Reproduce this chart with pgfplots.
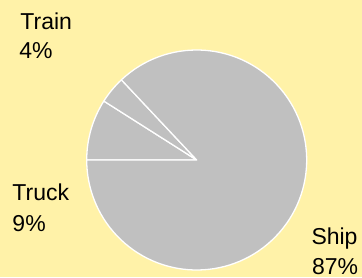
\documentclass[border=0pt]{standalone}
\usepackage{fontspec}
\setmainfont{Liberation Sans}
\usepackage{pgfplots}
\usepackage{pgfplotstable}
\pgfplotsset{compat=1.18}
\definecolor{bgyellow}{RGB}{255,242,168}
\definecolor{piegray}{RGB}{192,192,192}
\pgfplotstableread{
label value
Truck 9
Train 4
Ship 87
}\piedata
\begin{document}
\begin{tikzpicture}
\begin{axis}[
  name=ax,
  x=1pt, y=1pt,
  xmin=0, xmax=362, ymin=0, ymax=277,
  hide axis, clip=false,
]
\pgfplotsextra{
  \fill[bgyellow] (axis cs:0,0) rectangle (axis cs:362,277);
  \gdef\curang{180}
  \pgfplotstableforeachcolumnelement{value}\of\piedata\as\v{
    \pgfmathsetmacro\endang{\curang - 3.6*\v}
    \fill[piegray, draw=white, line width=1.3pt, line join=round]
      (axis cs:196.7,117) -- ++(\curang:110pt)
      arc[start angle=\curang, end angle=\endang, radius=110pt] -- cycle;
    \global\let\curang\endang
  }
  \begingroup
  \fontsize{23}{29}\selectfont
  \node[anchor=base west, inner sep=0pt] at (axis cs:20.2,247.7) {Train};
  \node[anchor=base west, inner sep=0pt] at (axis cs:19.2,218.7) {4\%};
  \node[anchor=base west, inner sep=0pt] at (axis cs:12.3,77) {Truck};
  \node[anchor=base west, inner sep=0pt] at (axis cs:12.3,46) {9\%};
  \node[anchor=base west, inner sep=0pt] at (axis cs:311.3,32.5) {Ship};
  \node[anchor=base west, inner sep=0pt] at (axis cs:311.8,2.7) {87\%};
  \endgroup
}
\end{axis}
\pgfresetboundingbox
\useasboundingbox (ax.south west) rectangle (ax.north east);
\end{tikzpicture}
\end{document}
